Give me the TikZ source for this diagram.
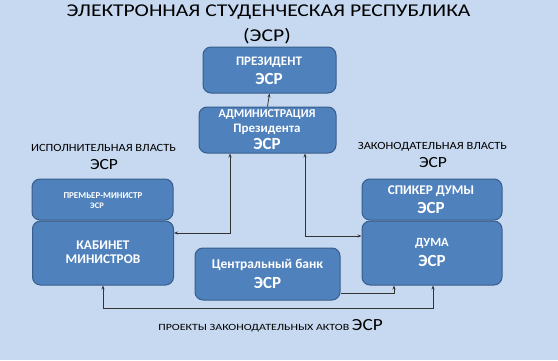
\documentclass[tikz,border=0pt]{standalone}
\usepackage{fontspec}
\setmainfont{Carlito}
\newfontfamily\wideA[FakeStretch=1.2]{Carlito}
\newfontfamily\wideB[FakeStretch=1.13]{Carlito}
\newfontfamily\wideC[FakeStretch=1.26]{Carlito}
\usetikzlibrary{arrows.meta}
\definecolor{bgblue}{HTML}{C6D9F0}
\definecolor{boxfill}{HTML}{4F81BD}
\definecolor{boxline}{HTML}{385D8A}
\tikzset{
  box/.style={draw=boxline, line width=1pt, fill=boxfill, rounded corners=8pt, inner sep=0pt},
  wt/.style={text=white, font=\bfseries, inner sep=0pt},
  bt/.style={text=black, inner sep=0pt},
  conn/.style={draw=black!80, line width=0.8pt, arrows={-}, >={Stealth[length=4pt,width=3pt]}}
}
\begin{document}
\begin{tikzpicture}[x=1pt,y=-1pt]
\fill[bgblue] (0,0) rectangle (558,360);
\useasboundingbox (0,0) rectangle (558,360);
% title
\node[bt,font=\wideA\fontsize{18}{20}\selectfont] (t1) at (268.5,12.5) {ЭЛЕКТРОННАЯ СТУДЕНЧЕСКАЯ РЕСПУБЛИКА};
\node[bt,font=\wideA\fontsize{18}{20}\selectfont] (t2) at (267,36) {(ЭСР)};
% boxes
\node[box,minimum width=133pt,minimum height=46pt] (pres) at (269.5,70) {};
\node[box,minimum width=137pt,minimum height=46pt] (admin) at (267.5,130) {};
\node[box,minimum width=141pt,minimum height=41pt] (prem) at (102.5,199.5) {};
\node[box,minimum width=141pt,minimum height=64pt] (cab) at (103,253) {};
\node[box,minimum width=140pt,minimum height=41pt] (spk) at (432,199.5) {};
\node[box,minimum width=140pt,minimum height=64pt] (duma) at (432,253) {};
\node[box,minimum width=145pt,minimum height=52pt] (bank) at (267.5,274) {};
% box texts
\node[wt,font=\bfseries\fontsize{13}{15}\selectfont] (presA) at (269,62) {ПРЕЗИДЕНТ};
\node[wt,font=\bfseries\fontsize{17}{19}\selectfont] (presB) at (269,79) {ЭСР};
\node[wt,font=\bfseries\fontsize{12}{14}\selectfont] (admA) at (267,114) {АДМИНИСТРАЦИЯ};
\node[wt,font=\bfseries\fontsize{13}{15}\selectfont] (admB) at (267,129) {Президента};
\node[wt,font=\bfseries\fontsize{17}{19}\selectfont] (admC) at (267,144) {ЭСР};
\node[wt,font=\bfseries\fontsize{9}{10}\selectfont] (prmA) at (103,196) {ПРЕМЬЕР-МИНИСТР};
\node[wt,font=\bfseries\fontsize{8.5}{10}\selectfont] (prmB) at (97,205.5) {ЭСР};
\node[wt,font=\bfseries\fontsize{13.3}{15}\selectfont] (cabA) at (103,245) {КАБИНЕТ};
\node[wt,font=\bfseries\fontsize{13.3}{15}\selectfont] (cabB) at (103,259.5) {МИНИСТРОВ};
\node[wt,font=\bfseries\fontsize{13.3}{15}\selectfont] (spkA) at (431,191) {СПИКЕР ДУМЫ};
\node[wt,font=\bfseries\fontsize{17}{19}\selectfont] (spkB) at (431,208) {ЭСР};
\node[wt,font=\bfseries\fontsize{12.5}{14}\selectfont] (dumA) at (432,243) {ДУМА};
\node[wt,font=\bfseries\fontsize{17}{19}\selectfont] (dumB) at (432,261) {ЭСР};
\node[wt,font=\bfseries\fontsize{13.5}{15}\selectfont] (bnkA) at (267.5,265) {Центральный банк};
\node[wt,font=\bfseries\fontsize{17}{19}\selectfont] (bnkB) at (267.5,283) {ЭСР};
% side labels
\node[bt,font=\wideB\fontsize{11}{13}\selectfont] (exA) at (103.5,148) {ИСПОЛНИТЕЛЬНАЯ ВЛАСТЬ};
\node[bt,font=\wideB\fontsize{15.5}{17}\selectfont] (exB) at (104,165) {ЭСР};
\node[bt,font=\wideB\fontsize{11}{13}\selectfont] (lgA) at (432.5,147) {ЗАКОНОДАТЕЛЬНАЯ ВЛАСТЬ};
\node[bt,font=\wideB\fontsize{15.5}{17}\selectfont] (lgB) at (433,163) {ЭСР};
\node[bt,font=\wideC\fontsize{9.5}{11}\selectfont] (proj) at (270.5,326) {ПРОЕКТЫ ЗАКОНОДАТЕЛЬНЫХ АКТОВ {\wideB\fontsize{17}{19}\selectfont ЭСР}};
% connectors
\draw[conn,->] (admin.north) -- (pres.south);
\draw[conn,<->] (admin.south -| 230,0) |- (cab.east |- 0,233);
\draw[conn,<->] (admin.south -| 305,0) |- (duma.west |- 0,236);
\draw[conn,->] (bank.east |- 0,293.5) -| (duma.south -| 394,0);
\draw[conn,<->] (cab.south -| 103,0) -- ++(0,23) -| (duma.south -| 433,0);
\end{tikzpicture}
\end{document}
